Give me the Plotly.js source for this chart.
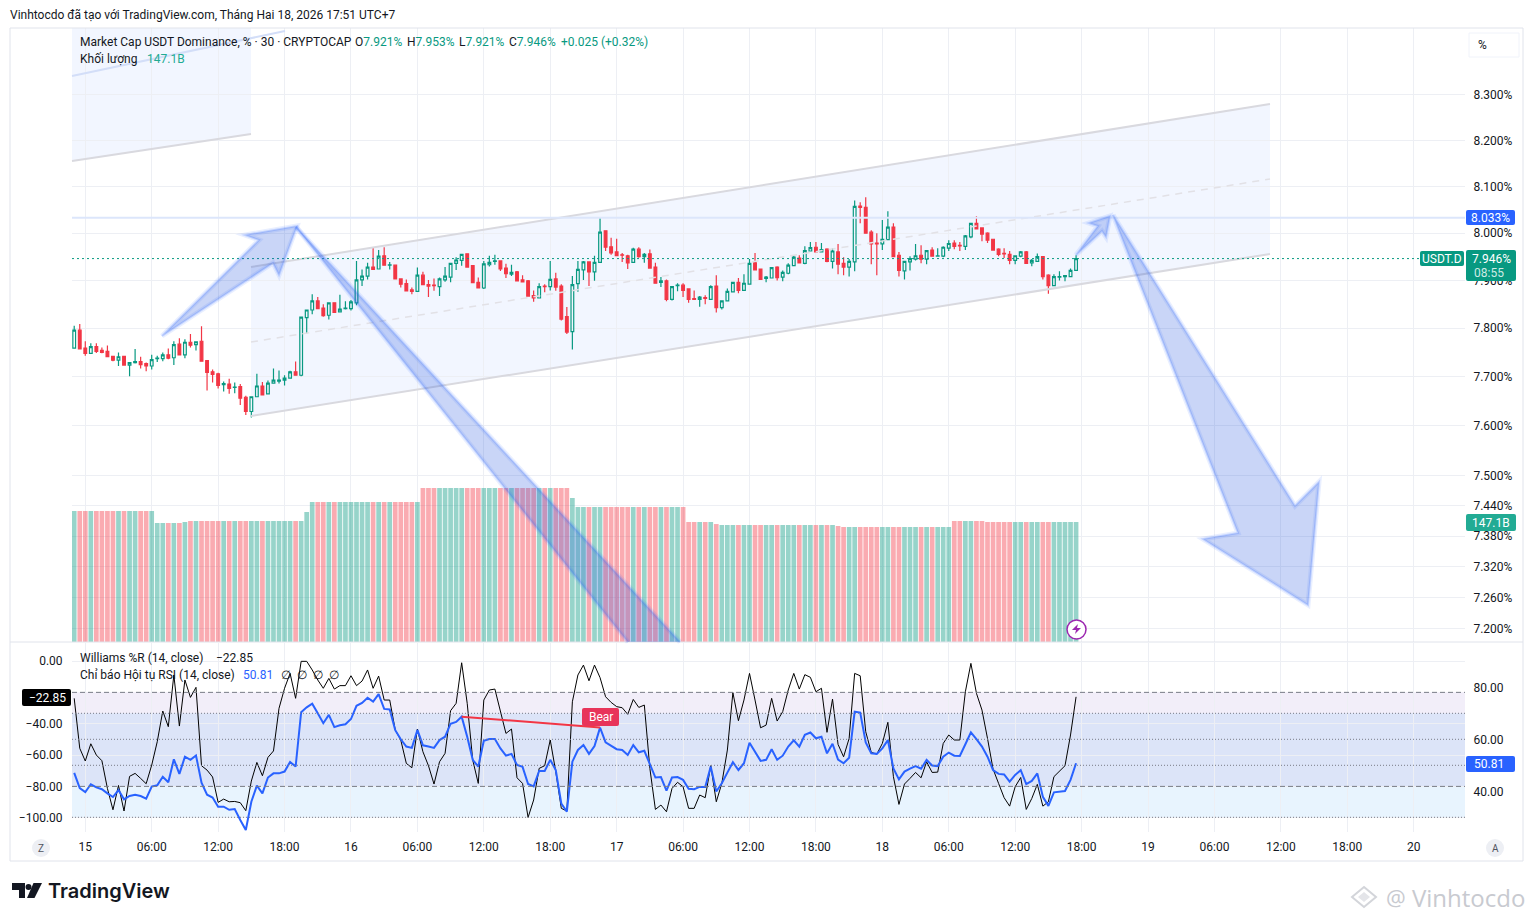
<!DOCTYPE html>
<html>
<head>
<meta charset="utf-8">
<title>USDT.D</title>
<script src="https://cdn.plot.ly/plotly-3.0.1.min.js"></script>
<style>
    html, body { margin: 0; padding: 0; background: #fff; }
    #chart { width: 1533px; height: 921px; }
</style>
</head>
<body>
<div id="chart"></div>
<script>
// 30 minute bars, first bar 2026-02-14 23:00, last bar 2026-02-18 17:30
const opens = [
    7.759,7.796,7.759,7.748,7.762,7.754,7.752,7.742,7.734,7.742,
    7.724,7.729,7.731,7.727,7.722,7.737,7.737,7.745,7.739,7.767,
    7.745,7.771,7.766,7.773,7.733,7.710,7.706,7.684,7.685,7.678,
    7.680,7.658,7.629,7.659,7.681,7.665,7.687,7.691,7.693,7.697,
    7.710,7.703,7.822,7.838,7.857,7.842,7.827,7.853,7.834,7.841,
    7.841,7.853,7.901,7.909,7.928,7.924,7.952,7.932,7.932,7.903,
    7.893,7.880,7.877,
    7.911,7.891,7.890,7.887,7.901,7.907,7.936,7.942,7.956,7.931,
    7.896,7.884,7.933,7.940,7.941,7.926,7.913,7.918,7.901,7.899,
    7.868,7.863,7.888,7.887,7.903,7.888,7.824,7.793,7.893,7.922,
    7.939,7.918,7.938,8.005,7.971,7.960,7.954,7.952,7.938,7.966,
    7.950,7.956,7.928,7.896,7.899,7.860,7.889,7.890,7.882,7.862,
    7.860,7.864,7.860,7.888,7.843,7.857,7.876,7.896,7.879,7.892,
    7.937,7.924,7.904,
    7.905,7.928,7.907,7.915,7.931,7.947,7.936,7.962,7.970,7.960,
    7.966,7.940,7.960,7.936,7.928,7.939,8.058,8.055,8.002,7.979,
    7.977,7.986,8.013,7.953,7.920,7.939,7.945,7.953,7.945,7.964,
    7.951,7.951,7.968,7.979,7.974,7.972,7.992,8.021,8.011,8.000,
    7.987,7.966,7.957,7.955,7.942,7.951,7.960,7.937,7.940,7.950,
    7.911,7.889,7.907,7.908,7.908,7.921
];
const highs = [
    7.805,7.809,7.773,7.769,7.769,7.760,7.764,7.742,7.750,7.743,
    7.729,7.757,7.741,7.729,7.745,7.743,7.750,7.758,7.773,7.779,
    7.777,7.788,7.772,7.804,7.733,7.715,7.708,7.690,7.696,7.688,
    7.685,7.661,7.659,7.706,7.689,7.692,7.717,7.713,7.703,7.712,
    7.731,7.823,7.838,7.871,7.865,7.850,7.853,7.853,7.870,7.856,
    7.859,7.941,7.923,7.937,7.970,7.964,7.970,7.939,7.932,7.903,
    7.902,7.885,7.927,
    7.918,7.901,7.904,7.906,7.928,7.936,7.949,7.955,7.956,7.932,
    7.906,7.941,7.952,7.954,7.941,7.935,7.933,7.920,7.911,7.901,
    7.879,7.894,7.892,7.941,7.916,7.892,7.844,7.909,7.941,7.941,
    7.939,7.952,8.034,8.005,7.990,7.988,7.958,7.954,7.969,7.970,
    7.958,7.965,7.937,7.907,7.902,7.887,7.894,7.894,7.883,7.879,
    7.867,7.869,7.890,7.911,7.857,7.883,7.896,7.905,7.913,7.945,
    7.958,7.924,7.909,
    7.927,7.930,7.921,7.936,7.953,7.953,7.972,7.981,7.981,7.979,
    7.968,7.968,7.977,7.949,7.945,8.070,8.066,8.077,8.006,8.000,
    8.028,8.047,8.021,7.960,7.940,7.951,7.977,7.974,7.963,7.970,
    7.968,7.972,7.985,7.985,7.981,7.996,8.021,8.036,8.011,8.002,
    7.987,7.968,7.968,7.962,7.952,7.962,7.962,7.945,7.957,7.950,
    7.913,7.913,7.919,7.910,7.925,7.953
];
const lows = [
    7.759,7.757,7.743,7.747,7.749,7.748,7.741,7.732,7.722,7.723,
    7.701,7.727,7.717,7.711,7.715,7.730,7.732,7.736,7.724,7.744,
    7.738,7.760,7.754,7.732,7.672,7.688,7.676,7.670,7.665,7.666,
    7.642,7.622,7.617,7.658,7.662,7.664,7.686,7.686,7.682,7.697,
    7.703,7.701,7.789,7.829,7.840,7.824,7.818,7.833,7.833,7.839,
    7.837,7.848,7.888,7.902,7.923,7.923,7.931,7.923,7.902,7.885,
    7.877,7.871,7.877,
    7.891,7.865,7.878,7.867,7.897,7.896,7.922,7.931,7.928,7.894,
    7.884,7.882,7.929,7.933,7.920,7.905,7.909,7.899,7.897,7.867,
    7.855,7.863,7.875,7.879,7.878,7.816,7.788,7.756,7.876,7.901,
    7.888,7.899,7.938,7.962,7.954,7.952,7.939,7.924,7.938,7.948,
    7.937,7.926,7.894,7.886,7.856,7.858,7.877,7.865,7.853,7.859,
    7.845,7.850,7.860,7.833,7.839,7.856,7.875,7.873,7.879,7.892,
    7.922,7.901,7.896,
    7.905,7.900,7.898,7.913,7.930,7.936,7.934,7.962,7.960,7.960,
    7.938,7.925,7.913,7.911,7.908,7.919,8.021,8.000,7.934,7.911,
    7.964,7.985,7.949,7.908,7.902,7.921,7.942,7.936,7.934,7.951,
    7.951,7.949,7.962,7.966,7.962,7.964,7.989,8.009,7.983,7.979,
    7.964,7.951,7.947,7.934,7.934,7.949,7.936,7.930,7.940,7.902,
    7.872,7.889,7.900,7.898,7.908,7.921
];
const closes = [
    7.796,7.757,7.748,7.762,7.752,7.750,7.741,7.734,7.741,7.724,
    7.729,7.731,7.725,7.722,7.735,7.738,7.745,7.738,7.766,7.745,
    7.771,7.765,7.772,7.732,7.709,7.705,7.682,7.686,7.676,7.679,
    7.656,7.629,7.659,7.681,7.663,7.687,7.693,7.693,7.697,7.710,
    7.703,7.823,7.838,7.857,7.841,7.826,7.853,7.833,7.840,7.842,
    7.855,7.901,7.909,7.928,7.923,7.951,7.932,7.933,7.903,7.892,
    7.878,7.877,7.911,
    7.891,7.888,7.889,7.903,7.909,7.936,7.943,7.955,7.928,7.895,
    7.884,7.935,7.938,7.941,7.924,7.914,7.917,7.899,7.897,7.867,
    7.863,7.887,7.887,7.902,7.886,7.819,7.792,7.891,7.923,7.939,
    7.918,7.938,8.002,7.970,7.958,7.952,7.953,7.937,7.966,7.950,
    7.955,7.926,7.894,7.899,7.860,7.887,7.890,7.879,7.860,7.860,
    7.865,7.862,7.887,7.843,7.857,7.877,7.896,7.879,7.894,7.936,
    7.922,7.902,7.907,
    7.927,7.906,7.917,7.932,7.949,7.937,7.963,7.969,7.960,7.965,
    7.940,7.962,7.934,7.928,7.940,8.057,8.055,8.000,7.977,7.977,
    7.987,8.013,7.950,7.921,7.940,7.946,7.952,7.945,7.963,7.951,
    7.952,7.970,7.978,7.972,7.973,7.994,8.021,8.009,7.998,7.985,
    7.964,7.955,7.956,7.942,7.952,7.960,7.936,7.942,7.950,7.908,
    7.889,7.908,7.908,7.910,7.921,7.946
];
// volume in billions
const volumes = [
    160.6,160.6,160.6,160.6,160.6,160.6,160.6,160.6,160.6,160.6,160.6,160.6,160.6,160.6,160.6,
    145.9,145.9,145.9,145.9,145.9,147.1,
    148.3,148.3,148.3,148.3,148.3,148.3,148.3,148.3,148.3,148.3,148.3,
    148.3,148.3,148.3,148.3,148.3,148.3,148.3,148.3,148.3,148.3,
    159.4,
    171.6,171.6,171.6,171.6,171.6,171.6,171.6,171.6,171.6,171.6,
    171.6,171.6,171.6,171.6,171.6,171.6,171.6,171.6,171.6,171.6,
    188.8,188.8,188.8,188.8,188.8,188.8,188.8,188.8,188.8,188.8,188.8,188.8,188.8,188.8,
    188.8,188.8,188.8,188.8,188.8,188.8,188.8,188.8,188.8,188.8,188.8,188.8,188.8,
    176.5,
    165.5,165.5,165.5,165.5,165.5,165.5,165.5,165.5,165.5,165.5,
    165.5,165.5,165.5,165.5,165.5,165.5,165.5,165.5,165.5,165.5,
    147.1,147.1,147.1,147.1,147.1,144.6,
    143.4,143.4,143.4,143.4,143.4,143.4,143.4,143.4,143.4,143.4,143.4,
    143.4,143.4,143.4,143.4,143.4,143.4,143.4,143.4,143.4,143.4,
    142.2,
    141,141,141,141,141,141,141,141,141,141,
    141,141,141,141,141,141,141,141,141,141,
    148.3,148.3,148.3,148.3,148.3,148.3,
    147.1,147.1,147.1,147.1,147.1,147.1,147.1,147.1,147.1,
    147.1,147.1,147.1,147.1,147.1,147.1,147.1,147.1
];
const williams = [
    -23.8,-55.7,-63.8,-52.8,-60,-63.6,-81.3,-94.9,-79.4,-95.7,
    -73.6,-71.7,-74.9,-78.3,-66.4,-51.5,-31.9,-41.9,-8.9,-41.5,
    -12.1,-23.2,-16.8,-66.8,-69.6,-74,-90.2,-88.1,-89.8,-89.6,
    -90.4,-95.5,-76.6,-64.7,-73.2,-61.5,-57.4,-30.2,-17.4,-7.9,
    -23.8,-0.2,-0.2,-5.7,-12.1,-17.4,-11.1,-17.9,-15.7,-15.7,
    -9.4,-15.7,-12.8,-5.7,-17.4,-9.6,-24.9,-24.9,-44,-50.4,
    -65.3,-68.1,-43.4,
    -57.9,-66.8,-78.5,-64.3,-58.9,-31.7,-27,-1.1,-27,-63.2,
    -78.1,-24.9,-18.5,-17.9,-32.3,-46.2,-43.4,-74.5,-78.1,-99.8,
    -88.7,-68.5,-66.8,-50.4,-70.6,-94,-95.7,-26,-8.9,-2.6,
    -12.6,-2.6,-10.6,-22.8,-26.4,-29.1,-29.8,-34,-24.5,-29.6,
    -28.1,-68.5,-94.7,-91.9,-96.2,-81.3,-77.4,-80.2,-94,-94,
    -85.5,-87.2,-66.8,-89.8,-78.1,-56.8,-20.2,-38.1,-24.9,-7.9,
    -24.9,-42.6,-40.9,
    -23.8,-38.3,-32.3,-18.5,-7.9,-17.9,-8.7,-10.4,-19.6,-17.4,
    -45.5,-24.3,-53.2,-61.1,-49.4,-7.9,-9.4,-45.1,-58.3,-59.4,
    -52.6,-39.1,-73.8,-91.5,-78.5,-74.9,-71.1,-74.5,-64.3,-71.1,
    -70.9,-52.6,-47.2,-50.4,-50.4,-19.6,-1.5,-20.6,-31.3,-49.4,
    -68.9,-78.1,-87.2,-92.6,-80.2,-74.3,-94.7,-87.7,-78.7,-92.6,
    -89.8,-73.8,-70.6,-66.8,-47.2,-22.85
];
const rsi = [
    47.1,41.2,39.7,42.7,41.5,40.8,39.2,37.8,40.5,36.9,
    38.2,38.7,38.2,37.2,41.8,42.3,45.6,43.5,52.3,46.7,
    53.3,52.1,53.8,43.3,38.7,37.6,34.1,34.1,32.9,33.2,
    29,25.1,36,42.2,39.2,45.3,46.9,46.9,47.6,51.3,
    49.5,70.4,72.3,73.7,70,66.2,69.4,64.7,65.4,65.8,
    67.8,72.9,74,76,74.5,77.4,71.7,71.5,63.5,60,
    57.2,56.7,63.6,
    57.7,57.2,56.7,59.7,61,66,66.7,68.7,61,52.1,
    49.5,59.4,60.1,60.1,56.5,53.7,54.4,50.1,49.4,42.8,
    41.9,47.8,47.8,52.1,48.2,35.3,32.2,51.4,55.9,57.8,
    54.4,57.4,64.5,58.8,57.6,56.2,55.9,54,57.8,55,
    55.6,50.8,45.3,45.5,40.3,45.3,45.5,44.4,41,40.8,
    41.7,41.7,49.5,39.9,43.1,47.2,51.2,48.2,50.8,58.7,
    55,51.7,52.1,
    56.2,52.1,53.7,57.2,59.6,57.2,61.7,62.6,60.4,61,
    54.6,58.3,52.2,50.8,52.9,70.6,70.3,58.8,54.6,54.4,
    56.5,59.7,48.8,44.6,47.6,48.7,49.7,48.7,52.1,49.9,
    49.7,53.3,54.9,53.7,53.6,58.1,62.7,60.1,57.2,53.3,
    48.2,46.7,46.5,43.7,46.3,48.1,42.8,44,46.9,37.9,
    34.4,39.6,39.9,40.1,44.4,50.81
];

const priceTicks = [8.3, 8.2, 8.1, 8.0, 7.9, 7.8, 7.7, 7.6, 7.5, 7.44, 7.38, 7.32, 7.26, 7.2];
const priceTickLabels = ['8.300%', '8.200%', '8.100%', '8.000%', '7.900%', '7.800%', '7.700%', '7.600%', '7.500%', '7.440%', '7.380%', '7.320%', '7.260%', '7.200%'];
const williamsTicks = [0, -40, -60, -80, -100];
const williamsTickLabels = ['0.00', '\u221240.00', '\u221260.00', '\u221280.00', '\u2212100.00'];
const rsiTicks = [80, 60, 40];
const rsiTickLabels = ['80.00', '60.00', '40.00'];
const timeTicks = [
    '2026-02-15 00:00', '2026-02-15 06:00', '2026-02-15 12:00', '2026-02-15 18:00',
    '2026-02-16 00:00', '2026-02-16 06:00', '2026-02-16 12:00', '2026-02-16 18:00',
    '2026-02-17 00:00', '2026-02-17 06:00', '2026-02-17 12:00', '2026-02-17 18:00',
    '2026-02-18 00:00', '2026-02-18 06:00', '2026-02-18 12:00', '2026-02-18 18:00',
    '2026-02-19 00:00', '2026-02-19 06:00', '2026-02-19 12:00', '2026-02-19 18:00',
    '2026-02-20 00:00'
];
const timeTickLabels = ['15', '06:00', '12:00', '18:00', '16', '06:00', '12:00', '18:00', '17', '06:00', '12:00', '18:00', '18', '06:00', '12:00', '18:00', '19', '06:00', '12:00', '18:00', '20'];
const lastPrice = 7.946;
const levelPrice = 8.033;

const TEAL = '#089981';
const RED = '#F23645';
const GRID = '#EDEFF4';
const TEXT = '#131722';
const FONT = 'Roboto, sans-serif';
const W = 1533;
const H = 921;

// pixel helpers for drawings that are placed on the page, not on the data
const px = x => x / W;
const py = y => 1 - y / H;

// bar times
const times = [];
for (let i = 0; i < opens.length; i++) {
    const d = new Date(Date.UTC(2026, 1, 14, 23, 0) + i * 1800000);
    times.push(d.toISOString().slice(0, 16).replace('T', ' '));
}

function polyPath(points, close) {
    const p = points.map((pt, i) => (i ? 'L' : 'M') + px(pt[0]).toFixed(5) + ',' + py(pt[1]).toFixed(5)).join(' ');
    return close === false ? p : p + ' Z';
}

function paperShape(points, style, close) {
    return Object.assign({ type: 'path', xref: 'paper', yref: 'paper', path: polyPath(points, close) }, style);
}

function rectShape(x0, y0, x1, y1, fill, line) {
    return {
        type: 'rect', xref: 'paper', yref: 'paper',
        x0: px(x0), x1: px(x1), y0: py(y0), y1: py(y1),
        fillcolor: fill, line: line || { width: 0 }
    };
}

// small tag with rounded corners
function tagShape(x0, y0, x1, y1, fill, r) {
    const rad = r === undefined ? 2 : r;
    const pt = (x, y) => px(x).toFixed(5) + ',' + py(y).toFixed(5);
    const path = 'M' + pt(x0 + rad, y0) + ' L' + pt(x1 - rad, y0) + ' Q' + pt(x1, y0) + ' ' + pt(x1, y0 + rad) +
        ' L' + pt(x1, y1 - rad) + ' Q' + pt(x1, y1) + ' ' + pt(x1 - rad, y1) +
        ' L' + pt(x0 + rad, y1) + ' Q' + pt(x0, y1) + ' ' + pt(x0, y1 - rad) +
        ' L' + pt(x0, y0 + rad) + ' Q' + pt(x0, y0) + ' ' + pt(x0 + rad, y0) + ' Z';
    return { type: 'path', xref: 'paper', yref: 'paper', path: path, fillcolor: fill, line: { width: 0 } };
}

function label(x, y, text, opts) {
    // annotations sit 2px right of their anchor when left aligned
    const ax = (opts && opts.xanchor) ? x : x - 2;
    return Object.assign({
        xref: 'paper', yref: 'paper', x: px(ax), y: py(y), text: text, showarrow: false,
        xanchor: 'left', yanchor: 'middle', align: 'left',
        font: { family: FONT, size: 12, color: TEXT }
    }, opts || {});
}

const arrowFill = 'rgba(30,80,220,0.24)';
const arrowGlow = { color: 'rgba(41,98,255,0.10)', width: 5 };
const arrowEdge = { color: 'rgba(41,98,255,0.20)', width: 2 };

// translucent TradingView style arrow: wide soft border plus a narrower one
function arrowShapes(points) {
    return [
        paperShape(points, { fillcolor: arrowFill, line: arrowGlow }),
        paperShape(points, { fillcolor: 'rgba(0,0,0,0)', line: arrowEdge })
    ];
}

// arrow cut by the pane bottom: only its two long edges get a border
function clippedArrowShapes(tip, right, left) {
    return [
        paperShape([tip, right, left], { fillcolor: arrowFill, line: { width: 0 } }),
        paperShape([tip, right], { line: arrowGlow }, false),
        paperShape([tip, left], { line: arrowGlow }, false),
        paperShape([tip, right], { line: arrowEdge }, false),
        paperShape([tip, left], { line: arrowEdge }, false)
    ];
}

const channelFill = 'rgba(41,98,255,0.06)';
const channelLine = { color: '#D9D9DF', width: 2 };
const dotted = { color: '#787B86', width: 1, dash: '1px,2px' };
const dashed = { color: '#787B86', width: 1, dash: '5px,3px' };

const shapes = [
    // frame and pane separator
    rectShape(10, 28, 1523, 861, 'rgba(0,0,0,0)', { color: '#E0E3EB', width: 1 }),
    paperShape([[10, 642], [1523, 642]], { line: { color: '#E0E3EB', width: 1 } }, false),

    // channels
    Object.assign(paperShape([[72, 28], [251, 28], [251, 134], [72, 161]], { fillcolor: channelFill, line: { width: 0 } }), { layer: 'below' }),
    Object.assign(paperShape([[251, 267], [1270, 104], [1270, 254], [251, 416]], { fillcolor: channelFill, line: { width: 0 } }), { layer: 'below' }),
    paperShape([[72, 161], [251, 134]], { line: channelLine }, false),
    paperShape([[72, 76], [285, 31]], { line: { color: '#D3DEF8', width: 2 } }, false),
    paperShape([[251, 416], [1270, 254]], { line: channelLine }, false),
    paperShape([[251, 267], [1270, 104]], { line: channelLine }, false),
    paperShape([[251, 342], [1270, 179]], { line: { color: '#E2E1E6', width: 1.5, dash: '7px,6px' } }, false),

    // level lines
    { type: 'line', xref: 'paper', yref: 'y', x0: px(72), x1: px(1465), y0: levelPrice, y1: levelPrice, line: { color: '#DCE6FB', width: 2 } },
    { type: 'line', xref: 'paper', yref: 'y', x0: px(72), x1: px(1420), y0: lastPrice, y1: lastPrice, line: { color: TEAL, width: 1, dash: '2px,3px' } },

    // oscillator bands and levels
    { type: 'rect', xref: 'paper', yref: 'y3', layer: 'below', x0: px(72), x1: px(1465), y0: -20, y1: -80, fillcolor: 'rgba(126,87,194,0.1)', line: { width: 0 } },
    { type: 'rect', xref: 'paper', yref: 'y4', layer: 'below', x0: px(72), x1: px(1465), y0: 70, y1: 30, fillcolor: 'rgba(33,150,243,0.1)', line: { width: 0 } },
    { type: 'line', xref: 'paper', yref: 'y3', x0: px(72), x1: px(1465), y0: -20, y1: -20, line: dashed },
    { type: 'line', xref: 'paper', yref: 'y3', x0: px(72), x1: px(1465), y0: -80, y1: -80, line: dashed },
    { type: 'line', xref: 'paper', yref: 'y4', x0: px(72), x1: px(1465), y0: 70, y1: 70, line: dotted },
    { type: 'line', xref: 'paper', yref: 'y4', x0: px(72), x1: px(1465), y0: 60, y1: 60, line: dotted },
    { type: 'line', xref: 'paper', yref: 'y4', x0: px(72), x1: px(1465), y0: 50, y1: 50, line: dotted },
    { type: 'line', xref: 'paper', yref: 'y4', x0: px(72), x1: px(1465), y0: 30, y1: 30, line: dotted },

    // price tags
    tagShape(1466, 210, 1515, 225, '#2962FF'),
    tagShape(1420, 251, 1464, 266, TEAL),
    tagShape(1466, 250, 1516, 281, TEAL),
    tagShape(1466, 514, 1516, 531, '#22AB94'),
    tagShape(1466, 756, 1515, 772, '#2962FF'),
    tagShape(22, 689, 71, 706, '#000000'),
    tagShape(582, 708, 619, 726, '#E8345A'),

    // top right percent button
    rectShape(1469, 33, 1519, 57, '#FFFFFF', { color: '#F0F3FA', width: 1 }),

    // Z and A buttons
    { type: 'circle', xref: 'paper', yref: 'paper', x0: px(32), x1: px(50), y0: py(839), y1: py(857), fillcolor: GRID, line: { width: 0 } },
    { type: 'circle', xref: 'paper', yref: 'paper', x0: px(1486), x1: px(1504), y0: py(839), y1: py(857), fillcolor: GRID, line: { width: 0 } },

    // lightning marker
    { type: 'circle', xref: 'paper', yref: 'paper', x0: px(1067), x1: px(1086), y0: py(620), y1: py(639), fillcolor: '#FFFFFF', line: { color: '#9C27B0', width: 1.5 } },
    paperShape([[1078, 624], [1072, 630], [1076, 630], [1075, 634], [1081, 628], [1077, 628]], { fillcolor: '#9C27B0', line: { width: 0 } }),

    // TradingView logo
    paperShape([[12, 883], [25, 883], [25, 898], [19, 898], [19, 890], [12, 890]], { fillcolor: '#131722', line: { width: 0 } }),
    { type: 'circle', xref: 'paper', yref: 'paper', x0: px(25.5), x1: px(31.5), y0: py(884), y1: py(890), fillcolor: '#131722', line: { width: 0 } },
    paperShape([[33.5, 883], [42, 883], [34.5, 898], [27, 898]], { fillcolor: '#131722', line: { width: 0 } }),

    // watermark icon
    paperShape([[1364, 887], [1376, 897], [1364, 907], [1352, 897]], { fillcolor: 'rgba(0,0,0,0)', line: { color: '#D3D5DA', width: 2 } }),
    paperShape([[1358, 897], [1364, 892], [1370, 897], [1364, 902]], { fillcolor: '#E4E5E9', line: { width: 0 } })
].concat(
    arrowShapes([[162, 336], [259, 240], [245, 235], [297, 226], [279, 275], [273, 263]]),
    clippedArrowShapes([296, 227], [680, 642], [628, 642]),
    arrowShapes([[1076, 255], [1098, 226], [1089, 223], [1110, 216], [1106, 237], [1102, 231]]),
    arrowShapes([[1113, 215], [1295, 506], [1319, 482], [1308, 605], [1203, 539], [1238, 533]])
);

const annotations = [
    label(10, 15, 'Vinhtocdo đã tạo với TradingView.com, Tháng Hai 18, 2026 17:51 UTC+7'),
    label(80, 42, 'Market Cap USDT Dominance, % · 30 · CRYPTOCAP'),
    label(355, 42, 'O<span style="color:#089981">7.921%</span>'),
    label(407, 42, 'H<span style="color:#089981">7.953%</span>'),
    label(459, 42, 'L<span style="color:#089981">7.921%</span>'),
    label(509, 42, 'C<span style="color:#089981">7.946%</span>'),
    label(561, 42, '+0.025 (+0.32%)', { font: { family: FONT, size: 12, color: TEAL } }),
    label(80, 59, 'Khối lượng'),
    label(147, 59, '147.1B', { font: { family: FONT, size: 12, color: '#22AB94' } }),
    label(80, 658, 'Williams %R (14, close)'),
    label(216, 658, '\u221222.85'),
    label(80, 675, 'Chỉ báo Hội tụ RSI (14, close)'),
    label(243, 675, '50.81', { font: { family: FONT, size: 12, color: '#2962FF' } }),
    label(281, 675, '∅&nbsp;&nbsp;∅&nbsp;&nbsp;∅&nbsp;&nbsp;∅'),
    label(1482, 45, '%', { xanchor: 'center' }),
    label(1490, 217.5, '8.033%', { xanchor: 'center', font: { family: FONT, size: 12, color: '#FFFFFF' } }),
    label(1442, 258.5, 'USDT.D', { xanchor: 'center', font: { family: FONT, size: 12, color: '#FFFFFF' } }),
    label(1491, 258.5, '7.946%', { xanchor: 'center', font: { family: FONT, size: 12, color: '#FFFFFF' } }),
    label(1489, 273, '08:55', { xanchor: 'center', font: { family: FONT, size: 12, color: '#CFEBE5' } }),
    label(1491, 522.5, '147.1B', { xanchor: 'center', font: { family: FONT, size: 12, color: '#FFFFFF' } }),
    label(1489, 764, '50.81', { xanchor: 'center', font: { family: FONT, size: 12, color: '#FFFFFF' } }),
    label(47, 697.5, '\u221222.85', { xanchor: 'center', font: { family: FONT, size: 12, color: '#FFFFFF' } }),
    label(600.5, 716.5, 'Bear', { xanchor: 'center', font: { family: FONT, size: 12, color: '#FFFFFF' } }),
    label(41, 848, 'Z', { xanchor: 'center', font: { family: FONT, size: 10, color: '#50535E' } }),
    label(1495, 848, 'A', { xanchor: 'center', font: { family: FONT, size: 10, color: '#50535E' } }),
    label(48, 891, 'TradingView', { font: { family: 'Inter, sans-serif', size: 20, color: '#131722', weight: 600 } }),
    label(1386, 897, '@', { font: { family: 'Open Sans, sans-serif', size: 22, color: '#C8CAD0' } }),
    label(1412, 897, 'Vinhtocdo', { font: { family: 'Open Sans, sans-serif', size: 24, color: '#C8CAD0' } })
];

const traces = [
    {
        type: 'candlestick', x: times, open: opens, high: highs, low: lows, close: closes,
        yaxis: 'y', xaxis: 'x',
        increasing: { line: { color: TEAL, width: 1.2 }, fillcolor: 'rgba(0,0,0,0)' },
        decreasing: { line: { color: RED, width: 1.2 }, fillcolor: RED },
        whiskerwidth: 0, hoverinfo: 'skip', showlegend: false
    },
    {
        type: 'bar', x: times, y: volumes, yaxis: 'y2', xaxis: 'x',
        marker: {
            color: closes.map((c, i) => c >= opens[i] ? 'rgba(8,153,129,0.42)' : 'rgba(242,54,69,0.42)'),
            line: { width: 0 }
        },
        hoverinfo: 'skip', showlegend: false
    },
    {
        type: 'scatter', mode: 'lines', x: times, y: williams, yaxis: 'y3', xaxis: 'x',
        line: { color: '#000000', width: 1 }, hoverinfo: 'skip', showlegend: false
    },
    {
        type: 'scatter', mode: 'lines', x: times, y: rsi, yaxis: 'y4', xaxis: 'x',
        line: { color: '#2962FF', width: 2 }, hoverinfo: 'skip', showlegend: false
    },
    {
        // bearish divergence between the two RSI highs
        type: 'scatter', mode: 'lines', x: [times[70], times[95]], y: [rsi[70], rsi[95]], yaxis: 'y4', xaxis: 'x',
        line: { color: RED, width: 2 }, hoverinfo: 'skip', showlegend: false
    }
];

const tickFont = { family: FONT, size: 12, color: TEXT };

const layout = {
    width: W,
    height: H,
    margin: { l: 0, r: 0, t: 0, b: 0 },
    paper_bgcolor: '#FFFFFF',
    plot_bgcolor: 'rgba(0,0,0,0)',
    showlegend: false,
    bargap: 0.15,
    boxgap: 0.3,
    xaxis: {
        type: 'date',
        domain: [px(72), px(1465)],
        range: ['2026-02-14 22:48', '2026-02-20 04:38'],
        anchor: 'y3',
        rangeslider: { visible: false },
        tickmode: 'array', tickvals: timeTicks, ticktext: timeTickLabels,
        ticks: 'outside', ticklen: 4, tickcolor: 'rgba(0,0,0,0)',
        tickfont: tickFont,
        showgrid: true, gridcolor: GRID, gridwidth: 1,
        showline: false, zeroline: false
    },
    yaxis: {
        type: 'log',
        domain: [py(642), py(28)],
        range: [Math.log10(7.175), Math.log10(8.449)],
        side: 'right',
        tickmode: 'array', tickvals: priceTicks, ticktext: priceTickLabels,
        ticks: 'outside', ticklen: 5, tickcolor: 'rgba(0,0,0,0)',
        tickfont: tickFont,
        showgrid: true, gridcolor: GRID, gridwidth: 1,
        showline: false, zeroline: false
    },
    yaxis2: {
        overlaying: 'y',
        range: [0, 752.6],
        visible: false,
        showgrid: false
    },
    yaxis3: {
        domain: [py(832), py(643)],
        range: [-109.1, 11.5],
        side: 'left',
        tickmode: 'array', tickvals: williamsTicks, ticktext: williamsTickLabels,
        ticks: 'outside', ticklen: 6, tickcolor: 'rgba(0,0,0,0)',
        tickfont: tickFont,
        showgrid: true, gridcolor: GRID, gridwidth: 1,
        showline: false, zeroline: false
    },
    yaxis4: {
        overlaying: 'y3',
        range: [24.35, 97.04],
        side: 'right',
        tickmode: 'array', tickvals: rsiTicks, ticktext: rsiTickLabels,
        ticks: 'outside', ticklen: 5, tickcolor: 'rgba(0,0,0,0)',
        tickfont: tickFont,
        showgrid: false,
        showline: false, zeroline: false
    },
    shapes: shapes,
    annotations: annotations
};

Plotly.newPlot('chart', traces, layout, { displayModeBar: false, staticPlot: true });
</script>
</body>
</html>
